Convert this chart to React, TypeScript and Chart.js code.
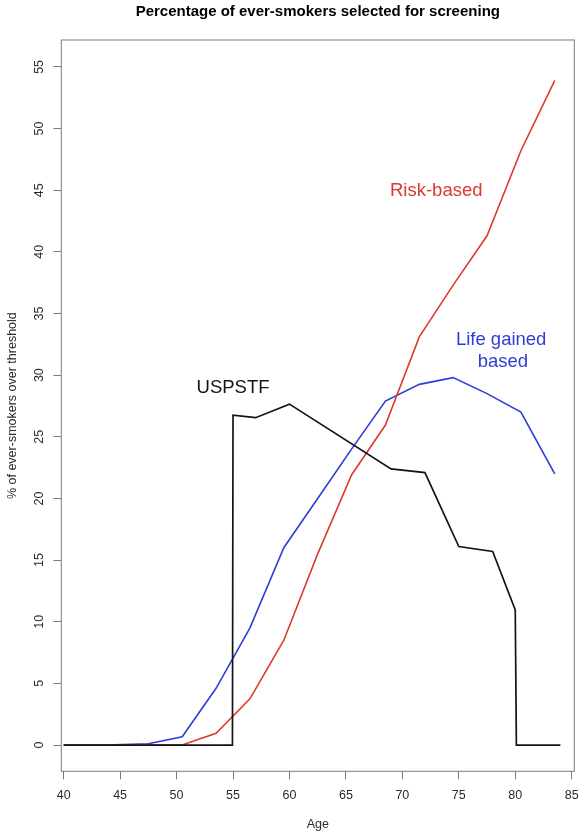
import React, { useEffect, useRef } from "react";
import { Chart, registerables } from "chart.js";

Chart.register(...registerables);

const titleText = "Percentage of ever-smokers selected for screening";
const xAxisTitle = "Age";
const yAxisTitle = "% of ever-smokers over threshold";

const xTicks = [40, 45, 50, 55, 60, 65, 70, 75, 80, 85];
const yTicks = [0, 5, 10, 15, 20, 25, 30, 35, 40, 45, 50, 55];

const riskAges = [40, 47.5, 50.5, 53.5, 56.5, 59.5, 62.5, 65.5, 68.5, 71.5, 74.5, 77.5, 80.5, 83.5];
const riskValues = [0, 0, 0, 0.95, 3.75, 8.5, 15.5, 21.9, 25.95, 33.1, 37.3, 41.3, 48.2, 53.9];

const lifeAges = [40, 44.5, 47.5, 50.5, 53.5, 56.5, 59.5, 62.5, 65.5, 68.5, 71.5, 74.5, 77.5, 80.5, 83.5];
const lifeValues = [0, 0.02, 0.1, 0.67, 4.6, 9.5, 16.0, 20.0, 24.0, 27.9, 29.25, 29.8, 28.5, 27.0, 22.0];

const uspstfAges = [40, 54.95, 55, 57, 60, 69, 72, 75, 78, 80, 80.1, 84];
const uspstfValues = [0, 0, 26.76, 26.55, 27.65, 22.4, 22.1, 16.1, 15.7, 10.95, 0, 0];

const noteTexts = ["Risk-based", "Life gained", "based", "USPSTF"];
const noteAges = [73, 78.75, 78.9, 55.0];
const noteValues = [44.95, 32.85, 31.1, 29.0];

const RED = "#DC3A2E";
const BLUE = "#2C3ED4";
const BLACK = "#141414";
const noteColors = [RED, BLUE, BLUE, BLACK];

const FONT = "'Liberation Sans', Arial, Helvetica, sans-serif";
const BOX = "#7c7c7c";
const TEXT = "#2a2a2a";

const pts = (xs: number[], ys: number[]) => xs.map((x, i) => ({ x, y: ys[i] }));

const decorPlugin = {
  id: "decor",
  afterDraw(chart: any) {
    const { ctx, chartArea, scales } = chart;
    const xs = scales.x;
    const ys = scales.y;
    ctx.save();
    ctx.strokeStyle = BOX;
    ctx.lineWidth = 1;
    ctx.strokeRect(chartArea.left, chartArea.top, chartArea.right - chartArea.left, chartArea.bottom - chartArea.top);
    ctx.fillStyle = "#000";
    ctx.font = `bold 15px ${FONT}`;
    ctx.textAlign = "center";
    ctx.textBaseline = "middle";
    ctx.fillText(titleText, (chartArea.left + chartArea.right) / 2, 12);
    ctx.fillStyle = TEXT;
    ctx.font = `12.5px ${FONT}`;
    yTicks.forEach((v) => {
      const py = ys.getPixelForValue(v);
      ctx.save();
      ctx.translate(39.3, py);
      ctx.rotate(-Math.PI / 2);
      ctx.fillText(String(v), 0, 0);
      ctx.restore();
    });
    ctx.font = `18.5px ${FONT}`;
    noteTexts.forEach((t, i) => {
      ctx.fillStyle = noteColors[i];
      ctx.fillText(t, xs.getPixelForValue(noteAges[i]), ys.getPixelForValue(noteValues[i]));
    });
    ctx.restore();
  },
};

export default function App() {
  const ref = useRef<HTMLCanvasElement | null>(null);
  useEffect(() => {
    document.body.style.margin = "0";
    const canvas = ref.current!;
    const chart = new Chart(canvas, {
      type: "line",
      data: {
        datasets: [
          { label: "USPSTF", data: pts(uspstfAges, uspstfValues), borderColor: BLACK, borderWidth: 1.7 },
          { label: "Risk-based", data: pts(riskAges, riskValues), borderColor: RED, borderWidth: 1.6 },
          { label: "Life gained based", data: pts(lifeAges, lifeValues), borderColor: BLUE, borderWidth: 1.6 },
        ],
      },
      options: {
        animation: false,
        responsive: false,
        devicePixelRatio: 1,
        parsing: false,
        elements: { point: { radius: 0 }, line: { tension: 0, fill: false } },
        layout: { padding: { top: 40, left: 0, right: 7.7, bottom: 0 } },
        plugins: { legend: { display: false }, tooltip: { enabled: false }, title: { display: false } },
        scales: {
          x: {
            type: "linear",
            min: 39.79,
            max: 85.23,
            afterBuildTicks: (s: any) => {
              s.ticks = xTicks.map((value) => ({ value }));
            },
            afterFit: (s: any) => {
              s.height = 64.7;
              s.paddingLeft = 0;
              s.paddingRight = 0;
            },
            grid: { drawOnChartArea: false, drawTicks: true, tickLength: 8, color: BOX, lineWidth: 1 },
            border: { display: false },
            ticks: { autoSkip: false, maxRotation: 0, padding: 9, color: TEXT, font: { family: FONT, size: 12.5 } },
            title: { display: true, text: xAxisTitle, color: TEXT, font: { family: FONT, size: 12.5 }, padding: { top: 0, bottom: 3.5 } },
          },
          y: {
            type: "linear",
            min: -2.13,
            max: 57.18,
            afterBuildTicks: (s: any) => {
              s.ticks = yTicks.map((value) => ({ value }));
            },
            afterFit: (s: any) => {
              s.width = 61.3;
              s.paddingTop = 0;
              s.paddingBottom = 0;
            },
            grid: { drawOnChartArea: false, drawTicks: true, tickLength: 8, color: BOX, lineWidth: 1 },
            border: { display: false },
            ticks: { display: false },
            title: { display: true, text: yAxisTitle, color: TEXT, font: { family: FONT, size: 12.5 }, padding: { top: 5.5, bottom: 0 } },
          },
        },
      },
      plugins: [decorPlugin],
    } as any);
    return () => chart.destroy();
  }, []);
  return (
    <div style={{ width: 582, height: 836, position: "relative", background: "#fff" }}>
      <canvas ref={ref} width={582} height={836} style={{ display: "block" }} />
    </div>
  );
}
